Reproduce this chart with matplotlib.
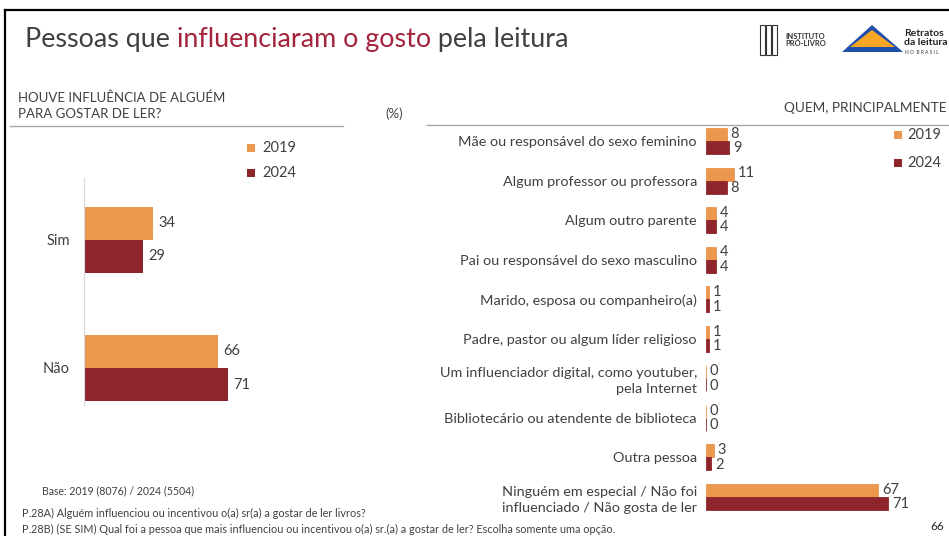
import matplotlib
matplotlib.use("Agg")
import matplotlib.pyplot as plt
from matplotlib.patches import Rectangle, Polygon
from matplotlib.lines import Line2D

W, H = 949, 536
plt.rcParams['font.family'] = ['Lato', 'DejaVu Sans']

# ---------------- data ----------------
years = ["2019", "2024"]
left_categories = ["Sim", "Não"]
left_2019 = [34, 66]
left_2024 = [29, 71]

right_categories = [
    "Mãe ou responsável do sexo feminino",
    "Algum professor ou professora",
    "Algum outro parente",
    "Pai ou responsável do sexo masculino",
    "Marido, esposa ou companheiro(a)",
    "Padre, pastor ou algum líder religioso",
    "Um influenciador digital, como youtuber,\npela Internet",
    "Bibliotecário ou atendente de biblioteca",
    "Outra pessoa",
    "Ninguém em especial / Não foi\ninfluenciado / Não gosta de ler",
]
right_2019 = [8, 11, 4, 4, 1, 1, 0, 0, 3, 67]
right_2024 = [9, 8, 4, 4, 1, 1, 0, 0, 2, 71]

C2019 = "#EB974E"
C2024 = "#8E252C"
TXT = "#404040"
RED = "#A3243B"

fig = plt.figure(figsize=(W / 100, H / 100), dpi=100)

def fx(x): return x / W
def fy(y): return 1 - y / H

def axes_px(x0, y0, x1, y1):
    return fig.add_axes([fx(x0), fy(y1), (x1 - x0) / W, (y1 - y0) / H])

# ---------------- frame & separators ----------------
fig.add_artist(Line2D([fx(5), fx(949)], [fy(10), fy(10)], color="black", lw=1.6))
fig.add_artist(Line2D([fx(5), fx(5)], [fy(10), fy(536)], color="black", lw=1.6))
fig.add_artist(Line2D([fx(10), fx(343)], [fy(126), fy(126)], color="#A6A6A6", lw=1.0))
fig.add_artist(Line2D([fx(427), fx(949)], [fy(125), fy(125)], color="#A6A6A6", lw=1.0))

# ---------------- title (two colours) ----------------
renderer = fig.canvas.get_renderer()
parts = [("Pessoas que ", TXT), ("influenciaram o gosto", RED), (" pela leitura", TXT)]
xcur = 25
for s, c in parts:
    t = fig.text(fx(xcur), fy(40), s, color=c, fontsize=19.4, fontweight="normal",
                 va="center", ha="left")
    bb = t.get_window_extent(renderer=renderer)
    xcur += bb.width

# ---------------- logos (approximation) ----------------
fig.text(fx(785), fy(40), "INSTITUTO\nPRÓ-LIVRO", fontsize=5.5, fontweight="bold",
         color="#333333", va="center", ha="left", linespacing=1.0)
for xx in [760, 766, 772]:
    fig.add_artist(Rectangle((fx(xx), fy(55)), 5 / W, 30 / H, fill=False,
                             edgecolor="#333333", lw=0.8))
fig.add_artist(Polygon([[fx(842), fy(52)], [fx(903), fy(52)], [fx(872), fy(25)]],
                       closed=True, facecolor="#1F4FA8", edgecolor="none"))
fig.add_artist(Polygon([[fx(850), fy(47)], [fx(895), fy(47)], [fx(872), fy(30)]],
                       closed=True, facecolor="#F5A623", edgecolor="none"))
fig.text(fx(904), fy(38), "Retratos\nda leitura", fontsize=7.5, fontweight="bold",
         color="#222222", va="center", ha="left", linespacing=0.95)
fig.text(fx(905), fy(52), "N O  B R A S I L", fontsize=3.5, color="#333333",
         va="center", ha="left")

# ---------------- headers ----------------
fig.text(fx(18), fy(106), "HOUVE INFLUÊNCIA DE ALGUÉM\nPARA GOSTAR DE LER?",
         fontsize=9.5, color=TXT, va="center", ha="left", linespacing=1.4)
fig.text(fx(385), fy(114), "(%)", fontsize=9.5, color=TXT, va="center", ha="left")
fig.text(fx(946), fy(108), "QUEM, PRINCIPALMENTE", fontsize=9.8, color=TXT,
         va="center", ha="right")

# ---------------- left chart ----------------
axL = axes_px(84, 178, 287, 405)
bh = 0.258
ypos = list(range(len(left_categories)))
axL.barh([y - bh / 2 for y in ypos], left_2019, height=bh, color=C2019, label=years[0])
axL.barh([y + bh / 2 for y in ypos], left_2024, height=bh, color=C2024, label=years[1])
axL.set_xlim(0, 100)
axL.set_ylim(1.289, -0.484)
for y, v in zip(ypos, left_2019):
    axL.text(v + 2.5, y - bh / 2, str(v), va="center", ha="left", fontsize=10.5, color=TXT)
for y, v in zip(ypos, left_2024):
    axL.text(v + 2.5, y + bh / 2, str(v), va="center", ha="left", fontsize=10.5, color=TXT)
axL.set_yticks(ypos)
axL.set_yticklabels(left_categories, fontsize=10.5, color=TXT)
axL.tick_params(axis="y", length=0, pad=10)
axL.set_xticks([])
for s in ["top", "right", "bottom"]:
    axL.spines[s].set_visible(False)
axL.spines["left"].set_color("#D9D9D9")
axL.patch.set_alpha(0)

# left legend
for yy, lab, c in [(148, years[0], C2019), (173, years[1], C2024)]:
    fig.add_artist(Rectangle((fx(247), fy(yy + 4)), 8 / W, 8 / H, facecolor=c, edgecolor="none"))
    fig.text(fx(262), fy(yy), lab, fontsize=10.5, color=TXT, va="center", ha="left")

# ---------------- right chart ----------------
step = 39.56
y_first = 141
top_px = 118
bot_px = 522
axR = axes_px(706, top_px, 937, bot_px)
rb = 13 / step
rpos = list(range(len(right_categories)))
axR.barh([y - rb / 2 for y in rpos], right_2019, height=rb, color=C2019,
         edgecolor=C2019, lw=0.6)
axR.barh([y + rb / 2 for y in rpos], right_2024, height=rb, color=C2024,
         edgecolor=C2024, lw=0.6)
axR.set_xlim(0, 231 / 2.57)
axR.set_ylim((bot_px - y_first) / step, -(y_first - top_px) / step)
for y, v in zip(rpos, right_2019):
    axR.text(v + 1.5, y - rb / 2 - 0.02, str(v), va="center", ha="left", fontsize=10.5, color=TXT)
for y, v in zip(rpos, right_2024):
    axR.text(v + 1.5, y + rb / 2 + 0.02, str(v), va="center", ha="left", fontsize=10.5, color=TXT)
axR.set_yticks(rpos)
axR.set_yticklabels(right_categories, fontsize=10.4, color=TXT, ha="right",
                    linespacing=1.4)
axR.tick_params(axis="y", length=0, pad=6.5)
axR.set_xticks([])
for s in ["top", "right", "bottom", "left"]:
    axR.spines[s].set_visible(False)
axR.patch.set_alpha(0)

# right legend
for yy, lab, c in [(135, years[0], C2019), (163, years[1], C2024)]:
    fig.add_artist(Rectangle((fx(894), fy(yy + 4)), 8 / W, 8 / H, facecolor=c, edgecolor="none"))
    fig.text(fx(907), fy(yy), lab, fontsize=10.5, color=TXT, va="center", ha="left")

# ---------------- footer ----------------
fig.text(fx(42), fy(491), "Base: 2019 (8076) / 2024 (5504)", fontsize=7.6, color=TXT,
         va="center", ha="left")
fig.text(fx(22), fy(513), "P.28A) Alguém influenciou ou incentivou o(a) sr(a) a gostar de ler livros?",
         fontsize=7.8, color=TXT, va="center", ha="left")
fig.text(fx(22), fy(529), "P.28B) (SE SIM) Qual foi a pessoa que mais influenciou ou incentivou o(a) sr.(a) a gostar de ler? Escolha somente uma opção.",
         fontsize=7.8, color=TXT, va="center", ha="left")
fig.text(fx(944), fy(527), "66", fontsize=8.5, color="#222222", va="center", ha="right")

fig.savefig("out.png", dpi=100)
